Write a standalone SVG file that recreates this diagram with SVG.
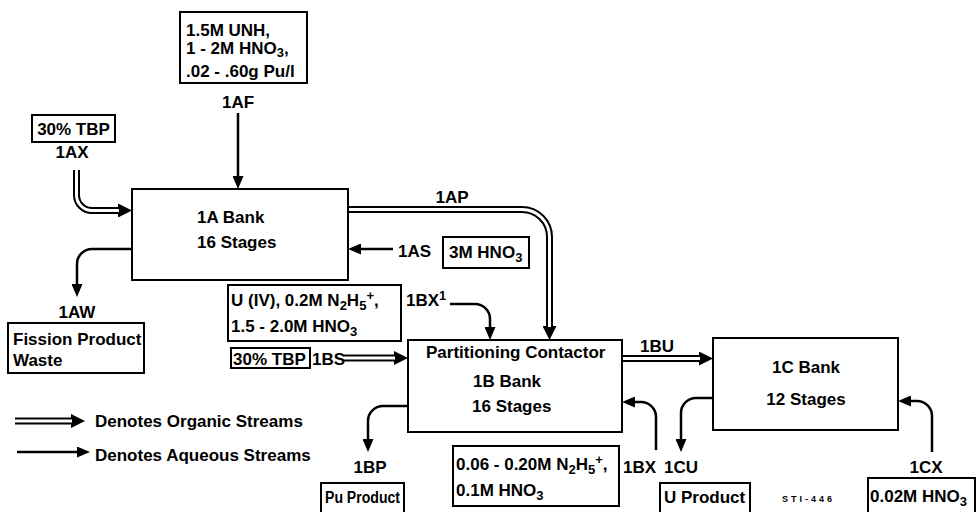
<svg xmlns="http://www.w3.org/2000/svg" width="977" height="512" viewBox="0 0 977 512">
<style>
text{font-family:"Liberation Sans",Arial,sans-serif;font-weight:bold;font-size:17px;fill:#000}
.bx{fill:#fff;stroke:#000;stroke-width:2}
.aq{fill:none;stroke:#000;stroke-width:2.5}
.og{fill:none;stroke:#000;stroke-width:7}
.ogi{fill:none;stroke:#fff;stroke-width:3}
.m{text-anchor:middle}
.s{font-size:13px}
</style>
<defs>
<marker id="ah" markerUnits="userSpaceOnUse" viewBox="0 0 13 11" markerWidth="13" markerHeight="11" refX="0" refY="5.5" orient="auto"><path d="M0,0L13,5.5L0,11z" fill="#000"/></marker>
<marker id="oh" markerUnits="userSpaceOnUse" viewBox="0 0 14 14" markerWidth="14" markerHeight="14" refX="0" refY="7" orient="auto"><path d="M0,0L14,7L0,14z" fill="#000"/></marker>
</defs>
<rect width="977" height="512" fill="#fff"/>
<g id="connectors">
<path class="og" d="M76.5,170V195A15.5,15.5 0 0 0 92,210.5H118" marker-end="url(#oh)"/>
<path class="ogi" d="M76.5,168V195A15.5,15.5 0 0 0 92,210.5H119"/>
<path class="og" d="M348,209.5H522A27.5,27.5 0 0 1 549.5,237V326" marker-end="url(#oh)"/>
<path class="ogi" d="M346,209.5H522A27.5,27.5 0 0 1 549.5,237V327"/>
<path class="og" d="M343,358H394" marker-end="url(#oh)"/>
<path class="ogi" d="M341,358H395"/>
<path class="og" d="M622,358.5H699" marker-end="url(#oh)"/>
<path class="ogi" d="M620,358.5H700"/>
<path class="og" d="M15,421H71" marker-end="url(#oh)"/>
<path class="ogi" d="M13,421H72"/>
<path class="aq" d="M238,113V176" marker-end="url(#ah)"/>
<path class="aq" d="M393,249H361" marker-end="url(#ah)"/>
<path class="aq" d="M132,249H92A15,15 0 0 0 77,264V284" marker-end="url(#ah)"/>
<path class="aq" d="M450,304H475A15,15 0 0 1 490,319V327" marker-end="url(#ah)"/>
<path class="aq" d="M408,406H383A15,15 0 0 0 368,421V439" marker-end="url(#ah)"/>
<path class="aq" d="M656,450V417A15,15 0 0 0 641,402H635" marker-end="url(#ah)"/>
<path class="aq" d="M713,398H696A15,15 0 0 0 681,413V439" marker-end="url(#ah)"/>
<path class="aq" d="M932,452V416A15,15 0 0 0 917,401H911" marker-end="url(#ah)"/>
<path class="aq" d="M17,452H77" marker-end="url(#ah)"/>
</g>
<g id="bank1A">
<rect class="bx" x="132" y="189" width="216" height="91"/>
<text x="197" y="223">1A Bank</text>
<text x="197" y="248">16 Stages</text>
</g>
<g id="feed1AF">
<rect class="bx" x="180" y="12" width="127" height="71"/>
<text x="186" y="36">1.5M UNH,</text>
<text x="186" y="54">1 - 2M HNO<tspan dy="3" class="s">3</tspan><tspan dy="-3">,</tspan></text>
<text x="186" y="77">.02 - .60g Pu/l</text>
<text class="m" x="238" y="108">1AF</text>
</g>
<g id="feed1AX">
<rect class="bx" x="32" y="115" width="83" height="27"/>
<text class="m" x="73.5" y="135">30% TBP</text>
<text class="m" x="72" y="158">1AX</text>
</g>
<g id="label1AP"><text class="m" x="452" y="203">1AP</text></g>
<g id="feed1AS">
<text x="398" y="257">1AS</text>
<rect class="bx" x="443" y="237" width="86" height="31"/>
<text x="449" y="258">3M HNO<tspan dy="4" class="s">3</tspan></text>
</g>
<g id="waste1AW">
<text class="m" x="77" y="318">1AW</text>
<rect class="bx" x="8" y="323" width="136" height="50"/>
<text x="13" y="345">Fission Product</text>
<text x="13" y="366">Waste</text>
</g>
<g id="feed1BXp">
<rect class="bx" x="228" y="285" width="173" height="56"/>
<text x="231" y="306">U (IV), 0.2M N<tspan dy="4" class="s">2</tspan><tspan dy="-4">H</tspan><tspan dy="4" class="s">5</tspan><tspan dy="-10" class="s">+</tspan><tspan dy="6">,</tspan></text>
<text x="231" y="332">1.5 - 2.0M HNO<tspan dy="4" class="s">3</tspan></text>
<text x="406" y="306">1BX<tspan dy="-6" class="s">1</tspan></text>
</g>
<g id="feed1BS">
<rect class="bx" x="231" y="348" width="79" height="20"/>
<text x="233" y="365">30% TBP</text>
<text x="312" y="365">1BS</text>
</g>
<g id="bank1B">
<rect class="bx" x="408" y="340" width="214" height="92"/>
<text x="426" y="358">Partitioning Contactor</text>
<text x="473" y="387">1B Bank</text>
<text x="472" y="412">16 Stages</text>
</g>
<g id="label1BU"><text class="m" x="657" y="352">1BU</text></g>
<g id="bank1C">
<rect class="bx" x="713" y="338" width="185" height="92"/>
<text class="m" x="806" y="373">1C Bank</text>
<text class="m" x="806" y="405">12 Stages</text>
</g>
<g id="prod1BP">
<text class="m" x="370" y="473">1BP</text>
<rect class="bx" x="321" y="483" width="83" height="35"/>
<text x="325" y="503" style="font-size:16px" textLength="75" lengthAdjust="spacingAndGlyphs">Pu Product</text>
</g>
<g id="feed1BX">
<rect class="bx" x="453" y="446" width="166" height="60"/>
<text x="456" y="470">0.06 - 0.20M N<tspan dy="4" class="s">2</tspan><tspan dy="-4">H</tspan><tspan dy="4" class="s">5</tspan><tspan dy="-10" class="s">+</tspan><tspan dy="6">,</tspan></text>
<text x="456" y="496">0.1M HNO<tspan dy="4" class="s">3</tspan></text>
<text x="623" y="473">1BX</text>
</g>
<g id="prod1CU">
<text class="m" x="681" y="473">1CU</text>
<rect class="bx" x="660" y="483" width="90" height="35"/>
<text x="664" y="503">U Product</text>
</g>
<g id="feed1CX">
<text class="m" x="926" y="473">1CX</text>
<rect class="bx" x="868" y="478" width="107" height="40"/>
<text x="870" y="502">0.02M HNO<tspan dy="4" class="s">3</tspan></text>
</g>
<g id="legend">
<text x="95" y="427">Denotes Organic Streams</text>
<text x="95" y="461">Denotes Aqueous Streams</text>
</g>
<text x="782" y="502" style="font-size:9px;letter-spacing:3px">STI-446</text>
</svg>
